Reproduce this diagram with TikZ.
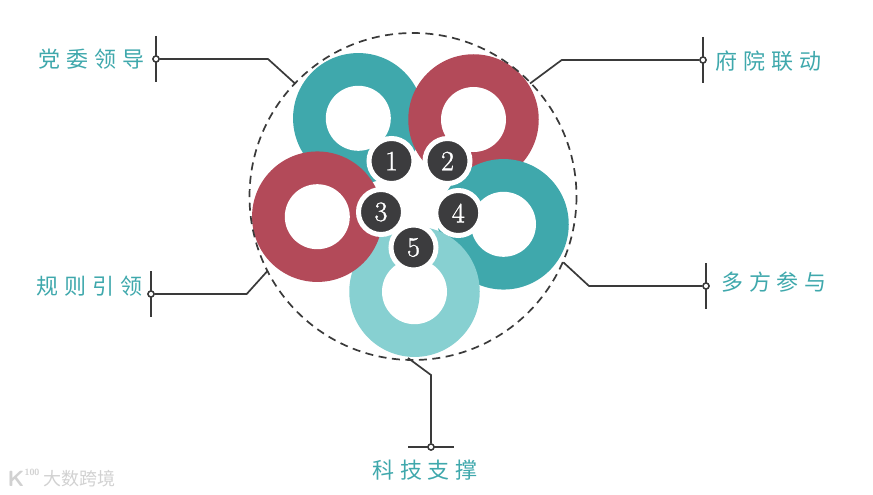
\documentclass[tikz,border=0pt]{standalone}
\usepackage{fontspec}
\newfontfamily\cjkfont[LetterSpace=27]{Noto Sans CJK SC}
\newfontfamily\markfont{Noto Sans CJK SC}
\newfontfamily\numfont[FakeBold=1.2]{Latin Modern Roman}
\definecolor{ringteal}{HTML}{3FA8AC}
\definecolor{ringred}{HTML}{B34A59}
\definecolor{ringlight}{HTML}{87D0D1}
\definecolor{darkdisc}{HTML}{3C3C3E}
\definecolor{leadline}{HTML}{3A3A3A}
\tikzset{
    ringnode/.style={circle,inner sep=0pt,minimum size=130.5pt},
    holenode/.style={circle,fill=white,inner sep=0pt,minimum size=65pt},
    numnode/.style={circle,fill=darkdisc,draw=white,line width=5pt,inner sep=0pt,minimum size=45pt,
        text=white,font=\numfont\fontsize{28}{28}\selectfont},
    dotnode/.style={circle,fill=white,draw=leadline,line width=1.4pt,inner sep=0pt,minimum size=6pt},
    leadnode/.style={text=ringteal,font=\cjkfont\fontsize{22}{22}\selectfont},
    lead/.style={draw=leadline,line width=1.7pt},
}
\begin{document}
\begin{tikzpicture}[x=1pt,y=-1pt]
    \useasboundingbox (0,0) rectangle (873,495);
    % rings, lowest first
    \foreach \n/\x/\y/\c in {a/358.3/118.3/ringteal,b/473.5/119.5/ringred,d/503.5/224.3/ringteal,
            e/414.5/291.7/ringlight,c/317.3/216.7/ringred}{
        \node[ringnode,fill=\c] (ring\n) at (\x,\y) {};
        \node[holenode] (hole\n) at (ring\n) {};
    }
    \draw[lead,dash pattern=on 8pt off 5.5pt] (413,196.5) circle (163.5);
    \node[numnode] (numa) at (391.5,161) {1};
    \node[numnode] (numb) at (447.5,161) {2};
    \node[numnode] (numc) at (381,212) {3};
    \node[numnode] (numd) at (458.3,213) {4};
    \node[numnode] (nume) at (413.5,247.5) {5};
    % leader lines
    \coordinate (enda) at (295,83.5);
    \coordinate (endb) at (530,83.5);
    \coordinate (endc) at (267.7,270.7);
    \coordinate (endd) at (563.3,262.3);
    \coordinate (ende) at (408,358);
    \node[dotnode] (dota) at (156,59) {};
    \node[dotnode] (dotb) at (703,60) {};
    \node[dotnode] (dotc) at (151,294) {};
    \node[dotnode] (dotd) at (706,286) {};
    \node[dotnode] (dote) at (431,447) {};
    \draw[lead] (dota) -- (268,59) -- (enda);
    \draw[lead] (dotb) -- (561.7,60) -- (endb);
    \draw[lead] (dotc) -- (246.7,294) -- (endc);
    \draw[lead] (dotd) -- (589,286) -- (endd);
    \draw[lead] (dote) -- (431,375) -- (ende);
    \draw[lead] (dota.center) ++(0,-23) coordinate (ta) -- ++(0,46) coordinate (tb);
    \draw[lead] (dotb.center) ++(0,-23) coordinate (tc) -- ++(0,46) coordinate (td);
    \draw[lead] (dotc.center) ++(0,-23) coordinate (te) -- ++(0,46) coordinate (tf);
    \draw[lead] (dotd.center) ++(0,-23) coordinate (tg) -- ++(0,46) coordinate (th);
    \draw[lead] (dote.center) ++(-23,0) coordinate (ti) -- ++(46,0) coordinate (tj);
    \node[dotnode] at (dota) {};
    \node[dotnode] at (dotb) {};
    \node[dotnode] at (dotc) {};
    \node[dotnode] at (dotd) {};
    \node[dotnode] at (dote) {};
    % labels
    \node[leadnode] (laba) at (91.5,59) {党委领导};
    \node[leadnode] (labb) at (768.5,61) {府院联动};
    \node[leadnode] (labc) at (89.5,286) {规则引领};
    \node[leadnode] (labd) at (774,282) {多方参与};
    \node[leadnode] (labe) at (425,470) {科技支撑};
    % watermark
    \node[text=black!18,font=\markfont\fontsize{18}{18}\selectfont] (marktext) at (79,479) {大数跨境};
    \node[text=black!18,font=\sffamily\bfseries\fontsize{22}{22}\selectfont] (markk) at (16,479) {K};
    \node[text=black!18,font=\sffamily\bfseries\fontsize{9}{9}\selectfont] (markn) at (32,472) {100};
\end{tikzpicture}
\end{document}
